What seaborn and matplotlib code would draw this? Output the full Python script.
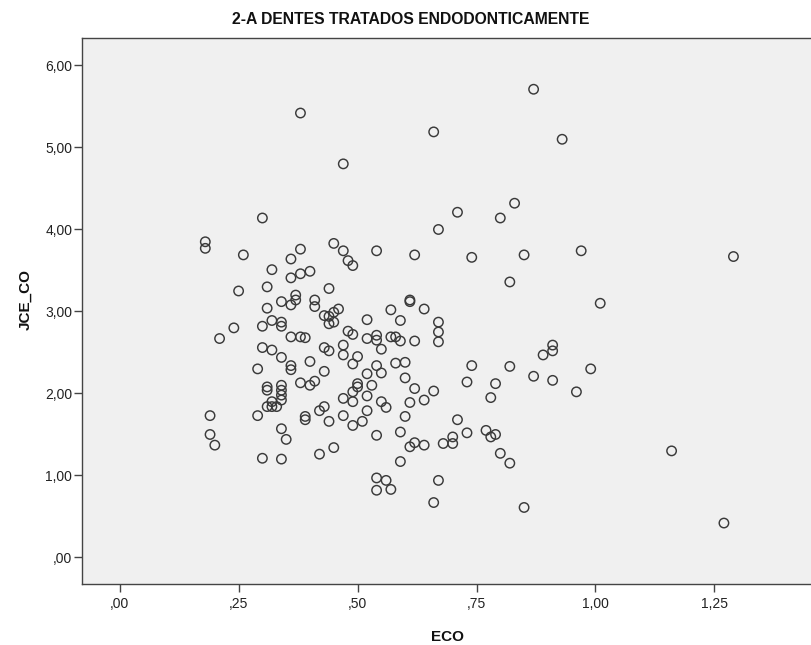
import matplotlib
matplotlib.use("Agg")
import matplotlib.pyplot as plt
import seaborn as sns
import pandas as pd

# ---- data ----
eco = [0.38, 0.66, 0.47, 0.30, 0.71, 0.67, 0.87, 0.93, 0.83, 0.80,
       0.18, 0.18, 0.26, 0.32, 0.25, 0.31, 0.31, 0.32, 0.30, 0.24,
       0.21, 0.30, 0.32, 0.29, 0.31, 0.31, 0.32, 0.31, 0.32, 0.33,
       0.19, 0.29, 0.19, 0.20, 0.30, 0.45, 0.38, 0.47, 0.54, 0.36,
       0.62, 0.74, 0.48, 0.49, 0.40, 0.38, 0.36, 0.44, 0.37, 0.34,
       0.36, 0.37, 0.41, 0.41, 0.61, 0.61, 0.57, 0.64, 0.46, 0.45,
       0.43, 0.44, 0.44, 0.45, 0.52, 0.59, 0.67, 0.67, 0.67, 0.34,
       0.34, 0.48, 0.49, 0.54, 0.57, 0.58, 0.54, 0.52, 0.59, 0.62,
       0.55, 0.36, 0.38, 0.39, 0.47, 0.43, 0.44, 0.47, 0.50, 0.49,
       0.34, 0.40, 0.36, 0.36, 0.54, 0.58, 0.60, 0.74, 0.73, 0.43,
       0.52, 0.55, 0.60, 0.38, 0.40, 0.41, 0.53, 0.50, 0.50, 0.49,
       0.49, 0.47, 0.52, 0.62, 0.66, 0.64, 0.61, 0.55, 0.56, 0.34,
       0.34, 0.34, 0.34, 0.42, 0.43, 0.52, 0.39, 0.47, 0.60, 0.71,
       0.39, 0.44, 0.49, 0.51, 0.34, 0.35, 0.34, 0.42, 0.45, 0.54,
       0.59, 0.61, 0.62, 0.64, 0.68, 0.70, 0.70, 0.73, 0.59, 0.54,
       0.56, 0.54, 0.57, 0.67, 0.66, 0.85, 0.97, 1.29, 0.82, 1.01,
       0.91, 0.91, 0.89, 0.82, 0.99, 0.87, 0.91, 0.79, 0.96, 0.78,
       0.77, 0.78, 0.79, 0.80, 0.82, 0.85, 1.16, 1.27]

jce_co = [5.42, 5.19, 4.80, 4.14, 4.21, 4.00, 5.71, 5.10, 4.32, 4.14,
          3.85, 3.77, 3.69, 3.51, 3.25, 3.30, 3.04, 2.89, 2.82, 2.80,
          2.67, 2.56, 2.53, 2.30, 2.08, 2.04, 1.90, 1.84, 1.84, 1.84,
          1.73, 1.73, 1.50, 1.37, 1.21, 3.83, 3.76, 3.74, 3.74, 3.64,
          3.69, 3.66, 3.62, 3.56, 3.49, 3.46, 3.41, 3.28, 3.20, 3.12,
          3.08, 3.14, 3.14, 3.06, 3.14, 3.12, 3.02, 3.03, 3.03, 2.99,
          2.95, 2.94, 2.85, 2.87, 2.90, 2.89, 2.87, 2.75, 2.63, 2.87,
          2.82, 2.76, 2.72, 2.71, 2.69, 2.69, 2.65, 2.67, 2.64, 2.64,
          2.54, 2.69, 2.69, 2.68, 2.59, 2.56, 2.52, 2.47, 2.45, 2.36,
          2.44, 2.39, 2.34, 2.29, 2.34, 2.37, 2.38, 2.34, 2.14, 2.27,
          2.24, 2.25, 2.19, 2.13, 2.10, 2.15, 2.10, 2.12, 2.08, 2.02,
          1.90, 1.94, 1.97, 2.06, 2.03, 1.92, 1.89, 1.90, 1.83, 2.10,
          2.04, 1.98, 1.92, 1.79, 1.84, 1.79, 1.72, 1.73, 1.72, 1.68,
          1.68, 1.66, 1.61, 1.66, 1.57, 1.44, 1.20, 1.26, 1.34, 1.49,
          1.53, 1.35, 1.40, 1.37, 1.39, 1.47, 1.39, 1.52, 1.17, 0.97,
          0.94, 0.82, 0.83, 0.94, 0.67, 3.69, 3.74, 3.67, 3.36, 3.10,
          2.59, 2.52, 2.47, 2.33, 2.30, 2.21, 2.16, 2.12, 2.02, 1.95,
          1.55, 1.47, 1.50, 1.27, 1.15, 0.61, 1.30, 0.42]

x_ticks = [0.0, 0.25, 0.50, 0.75, 1.00, 1.25]
x_tick_labels = [",00", ",25", ",50", ",75", "1,00", "1,25"]
y_ticks = [0, 1, 2, 3, 4, 5, 6]
y_tick_labels = [",00", "1,00", "2,00", "3,00", "4,00", "5,00", "6,00"]

title = "2-A DENTES TRATADOS ENDODONTICAMENTE"
x_label = "ECO"
y_label = "JCE_CO"

df = pd.DataFrame({"ECO": eco, "JCE_CO": jce_co})

sns.set_style("white")
plt.rcParams["font.family"] = ["Liberation Sans", "DejaVu Sans"]

W, H = 811, 645
fig = plt.figure(figsize=(W / 100, H / 100), dpi=100)
fig.patch.set_facecolor("white")
ax_left, ax_top, ax_bottom = 82.3, 38.0, 584.3
ax = fig.add_axes([ax_left / W, 1 - ax_bottom / H, (W - ax_left) / W,
                   (ax_bottom - ax_top) / H])
ax.set_facecolor("#F0F0F0")

sns.scatterplot(data=df, x="ECO", y="JCE_CO", ax=ax, marker="o",
                facecolor="none", edgecolor="#3a3a3a", linewidth=1.05,
                s=46, legend=False)

ax.set_xlim(-0.0785, 1.453)
ax.set_ylim(-0.327, 6.335)

ax.set_xticks(x_ticks)
ax.set_xticklabels(x_tick_labels)
ax.set_yticks(y_ticks)
ax.set_yticklabels(y_tick_labels)
ax.tick_params(axis="both", direction="out", length=6, width=1.0,
               color="#444444", labelsize=10, labelcolor="#222222",
               bottom=True, left=True)
ax.tick_params(axis="y", pad=1.2)
ax.tick_params(axis="x", pad=3.5)

for side in ["left", "bottom", "top"]:
    ax.spines[side].set_visible(True)
    ax.spines[side].set_color("#444444")
    ax.spines[side].set_linewidth(1.0)
ax.spines["right"].set_visible(False)

ax.set_xlabel("")
ax.set_ylabel("")
fig.text(447 / W, 1 - 637 / H, x_label, ha="center", va="center",
         fontsize=11, fontweight="bold", color="#111111")
fig.text(25 / W, 1 - 300 / H, y_label, ha="center", va="center",
         rotation=90, fontsize=11, fontweight="bold", color="#111111")
fig.text(411 / W, 1 - 20 / H, title, ha="center", va="center",
         fontsize=11.3, fontweight="bold", color="#111111")

fig.savefig("out.png", dpi=100)
